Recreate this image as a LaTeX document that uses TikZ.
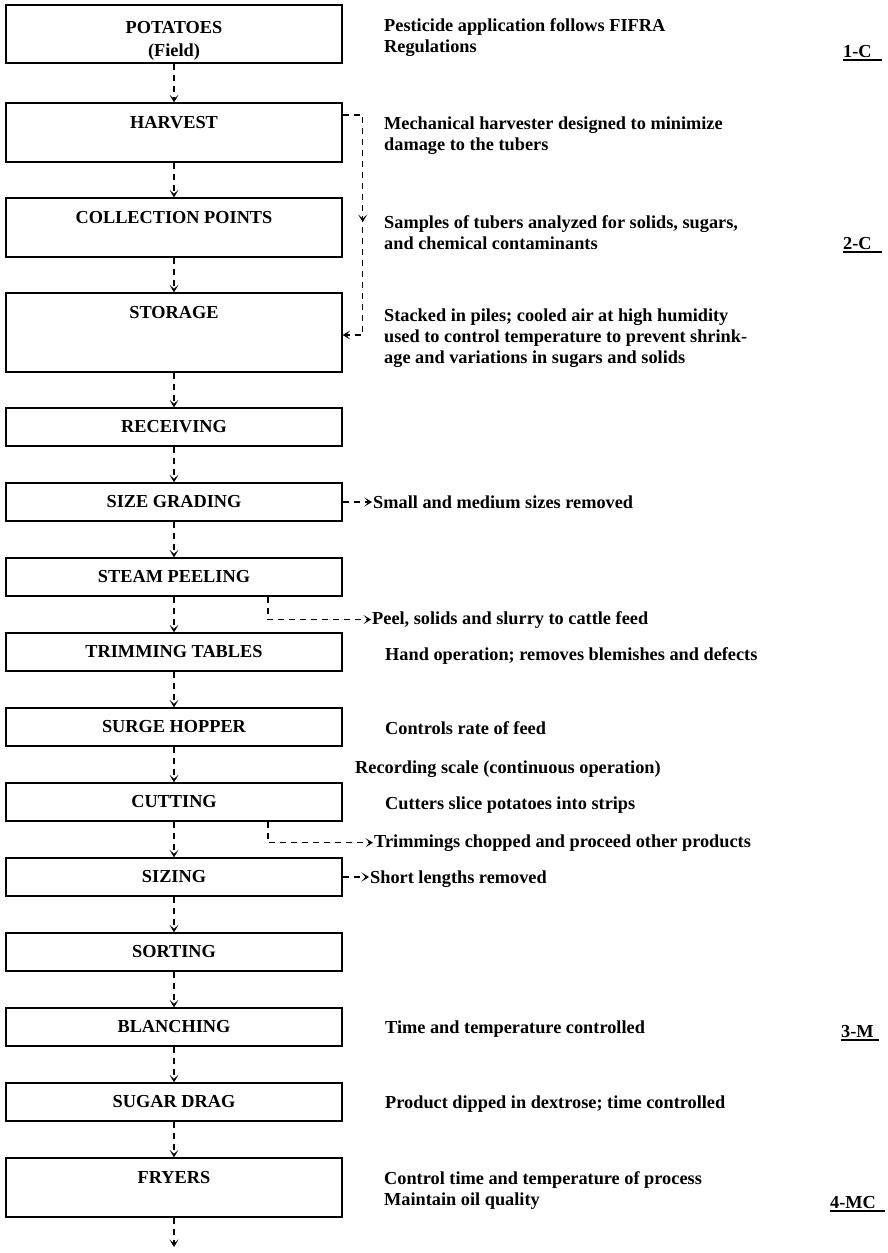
\documentclass[tikz,border=0pt]{standalone}
\usepackage{fontspec}
\setmainfont{Liberation Serif}
\usetikzlibrary{arrows.meta,decorations.markings}
\begin{document}
\begin{tikzpicture}[x=1pt,y=-1pt,
  ytip/.tip={Stealth[length=7.5pt,width=9pt,inset=4pt]},
  every node/.style={font=\fontsize{18.3}{21}\selectfont\bfseries, inner sep=0pt},
  stage/.style={draw, line width=1.4pt, minimum width=336pt, minimum height=38pt},
  flow/.style={line width=1.3pt, dash pattern=on 6pt off 5pt, -ytip},
  note/.style={anchor=base west, inner sep=1pt},
  notes/.style={anchor=north west, align=left},
  code/.style={anchor=base west},
  uline/.style={line width=1.3pt}
]
\useasboundingbox (0,0) rectangle (888,1253);
\fill[white] (0,0) rectangle (888,1253);

% process stages, top to bottom
\node[stage, minimum height=58pt] (pot)    at (174,34)    {};
\node (potlbl)   at (174,28) {POTATOES};
\node (fieldlbl) at (174,52) {(Field)};
\node[stage, minimum height=59pt] (harv)   at (174,132.5) {};
\node[anchor=base] (harvlbl) at (174,128) {HARVEST};
\node[stage, minimum height=59pt] (coll)   at (174,227.5) {};
\node[anchor=base] (colllbl) at (174,223) {COLLECTION POINTS};
\node[stage, minimum height=79pt] (stor)   at (174,332.5) {};
\node[anchor=base] (storlbl) at (174,318) {STORAGE};
\node[stage] (recv)   at (174,427)  {RECEIVING};
\node[stage] (sizeg)  at (174,502)  {SIZE GRADING};
\node[stage] (steam)  at (174,577)  {STEAM PEELING};
\node[stage] (trim)   at (174,652)  {TRIMMING TABLES};
\node[stage] (surge)  at (174,727)  {SURGE HOPPER};
\node[stage] (cut)    at (174,802)  {CUTTING};
\node[stage] (sizing) at (174,877)  {SIZING};
\node[stage] (sort)   at (174,952)  {SORTING};
\node[stage] (blanch) at (174,1027) {BLANCHING};
\node[stage] (sugar)  at (174,1102) {SUGAR DRAG};
\node[stage, minimum height=59pt] (fry)    at (174,1187.5) {};
\node[anchor=base] (frylbl) at (174,1183) {FRYERS};
\coordinate (out) at (174,1247);

% main flow
\draw[flow] (pot) -- (harv);
\draw[flow] (harv) -- (coll);
\draw[flow] (coll) -- (stor);
\draw[flow] (stor) -- (recv);
\draw[flow] (recv) -- (sizeg);
\draw[flow] (sizeg) -- (steam);
\draw[flow] (steam) -- (trim);
\draw[flow] (trim) -- (surge);
\draw[flow] (surge) -- (cut);
\draw[flow] (cut) -- (sizing);
\draw[flow] (sizing) -- (sort);
\draw[flow] (sort) -- (blanch);
\draw[flow] (blanch) -- (sugar);
\draw[flow] (sugar) -- (fry);
\draw[flow] (fry) -- (out);

% descriptions
\node[notes] (d1) at (384,16.3) {\strut Pesticide application follows FIFRA\\Regulations};
\node[notes] (d2) at (384,114.3) {\strut Mechanical harvester designed to minimize\\damage to the tubers};
\node[notes] (d3) at (384,213.3) {\strut Samples of tubers analyzed for solids, sugars,\\and chemical contaminants};
\node[notes] (d4) at (384,306.3) {\strut Stacked in piles; cooled air at high humidity\\used to control temperature to prevent shrink-\\age and variations in sugars and solids};
\node[note] (d5)  at (372,508) {Small and medium sizes removed};
\node[note] (d6)  at (371,624) {Peel, solids and slurry to cattle feed};
\node[note] (d7)  at (384,660) {Hand operation; removes blemishes and defects};
\node[note] (d8)  at (384,734) {Controls rate of feed};
\node[note] (d9)  at (354,773) {Recording scale (continuous operation)};
\node[note] (d10) at (384,809) {Cutters slice potatoes into strips};
\node[note] (d11) at (373,847) {Trimmings chopped and proceed other products};
\node[note] (d12) at (369,883) {Short lengths removed};
\node[note] (d13) at (384,1033) {Time and temperature controlled};
\node[note] (d14) at (384,1108) {Product dipped in dextrose; time controlled};
\node[notes] (d15) at (384,1169.3) {\strut Control time and temperature of process\\Maintain oil quality};

% side streams
\draw[flow, postaction={decorate},
  decoration={markings, mark=at position 127pt with {\arrow{ytip}}}]
  ([yshift=17.5pt]harv.east) -- ++(20,0) |- ([yshift=-2.5pt]stor.east);
\draw[flow] (sizeg.east) -- (sizeg.east -| d5.west);
\draw[flow] ([xshift=94pt]steam.south) |- (d6.west);
\draw[flow] ([xshift=94pt]cut.south) |- (d11.west);
\draw[flow] (sizing.east) -- (sizing.east -| d12.west);

% control point codes
\node[code] (c1) at (843,57)   {1-C};
\node[code] (c2) at (843,249)  {2-C};
\node[code] (c3) at (841,1037) {3-M};
\node[code] (c4) at (830,1208) {4-MC};
\draw[uline] ([yshift=-3pt]c1.base west) -- ++(39,0);
\draw[uline] ([yshift=-3pt]c2.base west) -- ++(39,0);
\draw[uline] ([yshift=-3pt]c3.base west) -- ++(38,0);
\draw[uline] ([yshift=-3pt]c4.base west) -- ++(55,0);
\end{tikzpicture}
\end{document}
